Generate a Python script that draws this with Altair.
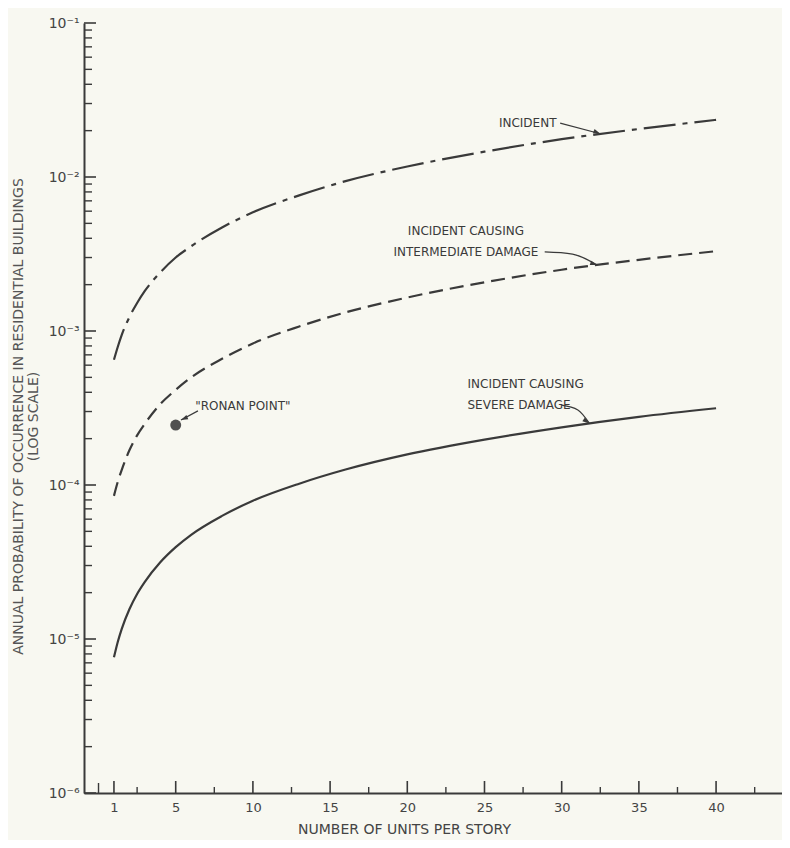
import altair as alt
import pandas as pd

# ---------------- data ----------------
units = [1, 1.25, 1.5, 2, 2.5, 3, 4, 5, 6, 8, 10, 13, 16, 20, 25, 30, 35, 40]
incident = [6.5e-4, 7.9e-4, 9.4e-4, 1.23e-3, 1.52e-3, 1.82e-3, 2.4e-3, 3.0e-3, 3.55e-3,
            4.7e-3, 5.9e-3, 7.6e-3, 9.4e-3, 1.17e-2, 1.46e-2, 1.76e-2, 2.05e-2, 2.35e-2]
intermediate = [8.5e-5, 1.05e-4, 1.25e-4, 1.68e-4, 2.1e-4, 2.5e-4, 3.35e-4, 4.15e-4, 5.0e-4,
                6.6e-4, 8.3e-4, 1.07e-3, 1.32e-3, 1.65e-3, 2.07e-3, 2.5e-3, 2.9e-3, 3.3e-3]
severe = [7.6e-6, 9.6e-6, 1.16e-5, 1.56e-5, 1.96e-5, 2.35e-5, 3.15e-5, 3.95e-5, 4.75e-5,
          6.3e-5, 7.9e-5, 1.02e-4, 1.26e-4, 1.58e-4, 1.97e-4, 2.37e-4, 2.77e-4, 3.15e-4]

ronan_x = [5]
ronan_p = [2.45e-4]

# annotation texts (centre aligned)
ctext_label = ["INCIDENT", "INCIDENT CAUSING", "INTERMEDIATE DAMAGE"]
ctext_x = [27.8, 23.8, 23.8]
ctext_p = [2.24e-2, 4.46e-3, 3.26e-3]
# annotation texts (left aligned)
ltext_label = ["INCIDENT CAUSING", "SEVERE DAMAGE", '"RONAN POINT"']
ltext_x = [23.9, 23.9, 6.26]
ltext_p = [4.53e-4, 3.3e-4, 3.26e-4]

# annotation arrows
arrow_id = ["a", "a", "b", "b", "b", "c", "c", "c", "d", "d"]
arrow_x = [29.9, 32.5, 28.9, 30.7, 32.3, 30.0, 31.05, 31.8, 6.44, 5.34]
arrow_p = [2.24e-2, 1.91e-2, 3.26e-3, 3.16e-3, 2.68e-3, 3.3e-4, 3.07e-4, 2.51e-4,
           3.03e-4, 2.64e-4]
head_x = [32.5, 32.3, 31.8, 5.34]
head_p = [1.91e-2, 2.68e-3, 2.51e-4, 2.64e-4]
head_angle = [22, 18, 34, 155]

# axis ticks
x_labels = [1, 5, 10, 15, 20, 25, 30, 35, 40]
x_major_ticks = [1, 5, 10, 15, 20, 25, 30, 35, 40]
x_small_ticks = [0]
x_minor_ticks = [2.5, 7.5, 12.5, 17.5, 22.5, 27.5, 32.5, 37.5, 42.5]
y_decades = [1e-1, 1e-2, 1e-3, 1e-4, 1e-5, 1e-6]
y_minor_ticks = [m * d for d in [1e-2, 1e-3, 1e-4, 1e-5, 1e-6] for m in range(2, 10)]

# ---------------- chart ----------------
INK = "#3a3a3a"
FONT = "DejaVu Sans"
W, H = 698, 770
XDOM = [-0.94, 44.27]
YDOM = [1e-6, 0.1]

xs = alt.Scale(domain=XDOM, nice=False, zero=False)
ys = alt.Scale(type="log", domain=YDOM, nice=False)

label_expr = ("datum.value > 0.05 ? '10⁻¹' : datum.value > 0.005 ? '10⁻²' : "
              "datum.value > 0.0005 ? '10⁻³' : datum.value > 0.00005 ? '10⁻⁴' : "
              "datum.value > 0.000005 ? '10⁻⁵' : '10⁻⁶'")

X_AXIS = alt.Axis(values=x_labels, ticks=False, tickSize=0, grid=False,
                  domainColor=INK, domainWidth=2,
                  labelFont=FONT, labelFontSize=13, labelColor="#444444",
                  labelPadding=8,
                  title="NUMBER OF UNITS PER STORY", titleFont=FONT,
                  titleFontSize=14, titleFontWeight="normal", titleColor="#444444",
                  titleX=320, titleY=36, titleBaseline="middle", titleAlign="center")
Y_AXIS = alt.Axis(values=y_decades, ticks=False, tickSize=0, grid=False,
                  domainColor=INK, domainWidth=2, labelExpr=label_expr,
                  labelFont=FONT, labelFontSize=14, labelColor="#444444",
                  labelPadding=5, labelBaseline="middle",
                  title=["ANNUAL PROBABILITY OF OCCURRENCE IN RESIDENTIAL BUILDINGS",
                         "(LOG SCALE)"],
                  titleFont=FONT, titleFontSize=14, titleFontWeight="normal",
                  titleColor="#555555", titleLineHeight=15,
                  titleX=-66, titleY=393, titleBaseline="middle", titleAlign="center",
                  titleAngle=270)

curves = pd.DataFrame({"x": units, "inc": incident, "mid": intermediate, "sev": severe})

base = alt.Chart(curves)
line_inc = base.mark_line(color=INK, strokeWidth=2.2, strokeDash=[32, 7, 5, 7],
                          interpolate="monotone").encode(
    x=alt.X("x:Q", scale=xs, axis=X_AXIS),
    y=alt.Y("inc:Q", scale=ys, axis=Y_AXIS))
line_mid = base.mark_line(color=INK, strokeWidth=2.2, strokeDash=[14, 7],
                          interpolate="monotone").encode(
    x=alt.X("x:Q", scale=xs), y=alt.Y("mid:Q", scale=ys))
line_sev = base.mark_line(color=INK, strokeWidth=2.2,
                          interpolate="monotone").encode(
    x=alt.X("x:Q", scale=xs), y=alt.Y("sev:Q", scale=ys))

ronan = alt.Chart(pd.DataFrame({"x": ronan_x, "p": ronan_p})).mark_point(
    filled=True, size=120, color="#505050", opacity=1).encode(
    x=alt.X("x:Q", scale=xs), y=alt.Y("p:Q", scale=ys))

ctext = alt.Chart(pd.DataFrame({"x": ctext_x, "p": ctext_p, "t": ctext_label})).mark_text(
    font=FONT, fontSize=12, color=INK, align="center", baseline="middle").encode(
    x=alt.X("x:Q", scale=xs), y=alt.Y("p:Q", scale=ys), text="t:N")
ltext = alt.Chart(pd.DataFrame({"x": ltext_x, "p": ltext_p, "t": ltext_label})).mark_text(
    font=FONT, fontSize=12, color=INK, align="left", baseline="middle").encode(
    x=alt.X("x:Q", scale=xs), y=alt.Y("p:Q", scale=ys), text="t:N")

arrows = alt.Chart(pd.DataFrame({"x": arrow_x, "p": arrow_p, "id": arrow_id,
                                 "o": list(range(len(arrow_x)))})).mark_line(
    color=INK, strokeWidth=1.2, interpolate="monotone").encode(
    x=alt.X("x:Q", scale=xs), y=alt.Y("p:Q", scale=ys), detail="id:N", order="o:Q")
heads = alt.Chart(pd.DataFrame({"x": head_x, "p": head_p, "a": head_angle})).mark_point(
    shape="M 0 0 L -1 -0.32 L -1 0.32 Z", filled=True, size=200, color=INK, opacity=1).encode(
    x=alt.X("x:Q", scale=xs), y=alt.Y("p:Q", scale=ys),
    angle=alt.Angle("a:Q", scale=None))

# axis ticks drawn inward
yt_major = alt.Chart(pd.DataFrame({"p": y_decades})).mark_rule(color=INK, strokeWidth=1.6).encode(
    y=alt.Y("p:Q", scale=ys), x=alt.value(0), x2=alt.value(12))
yt_minor = alt.Chart(pd.DataFrame({"p": y_minor_ticks})).mark_rule(color=INK, strokeWidth=1.4).encode(
    y=alt.Y("p:Q", scale=ys), x=alt.value(0), x2=alt.value(8))
xt_major = alt.Chart(pd.DataFrame({"x": x_major_ticks})).mark_rule(color=INK, strokeWidth=1.6).encode(
    x=alt.X("x:Q", scale=xs), y=alt.value(H), y2=alt.value(H - 12))
xt_small = alt.Chart(pd.DataFrame({"x": x_small_ticks})).mark_rule(color=INK, strokeWidth=1.4).encode(
    x=alt.X("x:Q", scale=xs), y=alt.value(H), y2=alt.value(H - 10))
xt_minor = alt.Chart(pd.DataFrame({"x": x_minor_ticks})).mark_rule(color=INK, strokeWidth=1.4).encode(
    x=alt.X("x:Q", scale=xs), y=alt.value(H), y2=alt.value(H - 6))

chart = alt.layer(
    line_inc, line_mid, line_sev, ronan, ctext, ltext, arrows, heads,
    yt_major, yt_minor, xt_major, xt_small, xt_minor
).properties(
    width=W, height=H,
    autosize=alt.AutoSizeParams(type="none"),
    padding={"left": 76, "top": 15, "right": 0, "bottom": 47},
    background="#f8f8f1",
).configure_view(stroke=None)

chart.save("out.html", embed_options={"renderer": "svg", "actions": False})
